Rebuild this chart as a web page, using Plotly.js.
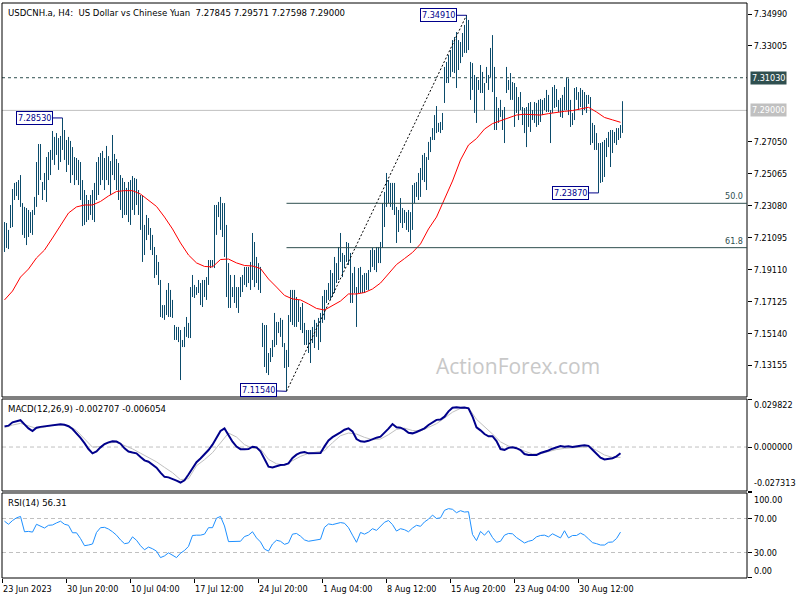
<!DOCTYPE html>
<html>
<head>
<meta charset="utf-8">
<script src="https://cdn.plot.ly/plotly-3.0.1.min.js"></script>
<style>html,body{margin:0;padding:0;background:#fff;}#chart{width:800px;height:600px;}</style>
</head>
<body>
<div id="chart"></div>
<script>
// ---- Data ----
const highs = [
7.2206,7.2200,7.2157,7.2312,7.2411,7.2449,7.2455,7.2467,7.2498,7.2324,
7.2300,7.2293,7.2281,7.2268,7.2281,7.2362,7.2579,7.2691,7.2691,7.2455,
7.2511,7.2610,7.2641,7.2654,7.2772,7.2735,7.2759,7.2728,7.2741,7.2853,
7.2778,7.2716,7.2735,7.2710,7.2672,7.2610,7.2604,7.2592,7.2579,7.2467,
7.2405,7.2374,7.2343,7.2374,7.2405,7.2449,7.2579,7.2610,7.2635,7.2648,
7.2604,7.2679,7.2616,7.2585,7.2747,7.2629,7.2598,7.2573,7.2498,7.2480,
7.2455,7.2418,7.2455,7.2467,7.2492,7.2480,7.2474,7.2405,7.2374,7.2374,
7.2188,7.2250,7.2231,7.2169,7.2126,7.2051,7.2001,7.1958,7.1846,7.1690,
7.1690,7.1784,7.1827,7.1784,7.1722,7.1566,7.1554,7.1554,7.1535,7.1473,
7.1554,7.1616,7.1579,7.1802,7.1877,7.1815,7.1802,7.1846,7.1827,7.1846,
7.1846,7.1864,7.1970,7.1970,7.1970,7.2312,7.2312,7.2331,7.2362,7.2324,
7.2324,7.2188,7.1951,7.1877,7.1802,7.1877,7.1802,7.1802,7.1864,7.1877,
7.1927,7.1927,7.1927,7.1958,7.2138,7.2082,7.1989,7.1951,7.1927,7.1579,
7.1566,7.1566,7.1392,7.1423,7.1473,7.1641,7.1585,7.1585,7.1610,7.1598,
7.1454,7.1411,7.1628,7.1784,7.1784,7.1784,7.1740,7.1722,7.1678,7.1703,
7.1579,7.1535,7.1535,7.1535,7.1554,7.1598,7.1579,7.1610,7.1641,7.1746,
7.1784,7.1784,7.1827,7.1908,7.1889,7.1989,7.1951,7.2051,7.2138,7.2014,
7.2001,7.2082,7.2076,7.2014,7.1889,7.1927,7.1802,7.1920,7.1927,7.1877,
7.1889,7.1889,7.1908,7.2032,7.2045,7.2032,7.2051,7.2051,7.2082,7.2324,
7.2393,7.2511,7.2467,7.2449,7.2449,7.2449,7.2300,7.2281,7.2355,7.2293,
7.2281,7.2268,7.2281,7.2268,7.2436,7.2449,7.2455,7.2511,7.2542,7.2623,
7.2635,7.2610,7.2704,7.2735,7.2790,7.2871,7.2927,7.2822,7.2828,7.2884,
7.3170,7.3201,7.3244,7.3275,7.3337,7.3356,7.3387,7.3337,7.3325,7.3381,
7.3431,7.3491,7.3462,7.3201,7.3194,7.3120,7.3107,7.3089,7.3182,7.3139,
7.3070,7.3170,7.3120,7.3288,7.3368,7.3170,7.2983,7.2915,7.2965,7.2902,
7.2921,7.3170,7.3089,7.3132,7.3076,7.3070,7.3045,7.2983,7.3014,7.2921,
7.2915,7.2921,7.2946,7.2952,7.2902,7.2952,7.2946,7.2965,7.2971,7.2965,
7.2977,7.3027,7.2996,7.2902,7.3045,7.3058,7.3033,7.2965,7.2977,7.2996,
7.3045,7.3103,7.3098,7.2965,7.2884,7.3039,7.3045,7.3014,7.3039,7.3027,
7.3014,7.2996,7.2996,7.2983,7.2822,7.2809,7.2759,7.2697,7.2697,7.2704,
7.2716,7.2728,7.2766,7.2778,7.2778,7.2766,7.2790,7.2790,7.2809,7.29571
];
const lows = [
7.2020,7.2045,7.2038,7.2169,7.2175,7.2343,7.2368,7.2343,7.2300,7.2126,
7.2107,7.2063,7.2113,7.2138,7.2126,7.2250,7.2300,7.2374,7.2467,7.2343,
7.2405,7.2331,7.2467,7.2498,7.2592,7.2561,7.2623,7.2530,7.2579,7.2654,
7.2592,7.2517,7.2561,7.2449,7.2498,7.2436,7.2467,7.2436,7.2343,7.2181,
7.2188,7.2206,7.2219,7.2250,7.2219,7.2206,7.2343,7.2374,7.2436,7.2467,
7.2405,7.2467,7.2436,7.2374,7.2498,7.2467,7.2405,7.2343,7.2281,7.2231,
7.2250,7.2250,7.2206,7.2188,7.2281,7.2250,7.2312,7.2250,7.2157,7.1958,
7.2001,7.2094,7.2126,7.2032,7.2001,7.1858,7.1877,7.1815,7.1616,7.1610,
7.1598,7.1628,7.1616,7.1616,7.1610,7.1473,7.1473,7.1460,7.1224,7.1429,
7.1429,7.1492,7.1485,7.1485,7.1740,7.1734,7.1753,7.1765,7.1690,7.1678,
7.1740,7.1722,7.1815,7.1920,7.1927,7.1920,7.2126,7.2237,7.2157,7.2113,
7.1989,7.1740,7.1672,7.1672,7.1740,7.1703,7.1672,7.1641,7.1740,7.1771,
7.1815,7.1802,7.1827,7.1784,7.1846,7.1802,7.1827,7.1784,7.1765,7.1429,
7.1305,7.1268,7.1255,7.1336,7.1367,7.1429,7.1442,7.1516,7.1492,7.1429,
7.1299,7.1154,7.1305,7.1585,7.1566,7.1554,7.1554,7.1585,7.1535,7.1516,
7.1442,7.1442,7.1392,7.1330,7.1454,7.1423,7.1492,7.1411,7.1460,7.1579,
7.1598,7.1703,7.1722,7.1722,7.1740,7.1765,7.1827,7.1846,7.1958,7.1864,
7.1920,7.1958,7.1939,7.1703,7.1703,7.1765,7.1554,7.1765,7.1765,7.1765,
7.1765,7.1784,7.1784,7.1895,7.1927,7.1908,7.1895,7.1951,7.1951,7.2045,
7.2175,7.2300,7.2324,7.2300,7.2281,7.2250,7.2076,7.2144,7.2200,7.2169,
7.2200,7.2157,7.2144,7.2076,7.2157,7.2324,7.2362,7.2343,7.2362,7.2467,
7.2455,7.2405,7.2592,7.2641,7.2716,7.2716,7.2759,7.2766,7.2759,7.2778,
7.2946,7.3070,7.3070,7.3107,7.3139,7.3132,7.3039,7.3151,7.3194,7.3232,
7.3257,7.3257,7.3275,7.2965,7.3027,7.2884,7.2822,7.3027,7.3008,7.3008,
7.2902,7.3070,7.3027,7.3107,7.3014,7.2778,7.2778,7.2822,7.2859,7.2778,
7.2697,7.3008,7.3027,7.2965,7.2965,7.2797,7.2884,7.2840,7.2902,7.2809,
7.2759,7.2672,7.2797,7.2766,7.2840,7.2822,7.2797,7.2809,7.2828,7.2871,
7.2902,7.2890,7.2890,7.2697,7.2884,7.2915,7.2921,7.2890,7.2859,7.2853,
7.2902,7.2902,7.2871,7.2797,7.2809,7.2840,7.2965,7.2902,7.2921,7.2871,
7.2902,7.2884,7.2940,7.2685,7.2697,7.2654,7.2654,7.2387,7.2449,7.2455,
7.2486,7.2610,7.2672,7.2548,7.2635,7.2697,7.2685,7.2716,7.2728,7.27598
];
// moving average (red), one value every 4 bars
const maStep = 4;
const maValues = [
7.1722,7.1777,7.1864,7.1914,7.1983,7.2032,7.2107,7.2188,7.2262,7.2300,
7.2312,7.2312,7.2334,7.2368,7.2396,7.2401,7.2401,7.2380,7.2343,7.2303,
7.2237,7.2163,7.2076,7.2001,7.1952,7.1930,7.1927,7.1973,7.1976,7.1952,
7.1936,7.1933,7.1917,7.1852,7.1802,7.1750,7.1728,7.1722,7.1697,7.1669,
7.1659,7.1687,7.1715,7.1759,7.1759,7.1768,7.1790,7.1827,7.1883,7.1942,
7.1979,7.2017,7.2070,7.2163,7.2237,7.2349,7.2461,7.2592,7.2685,7.2725,
7.2784,7.2818,7.2836,7.2856,7.2871,7.2876,7.2874,7.2871,7.2880,7.2888,
7.2894,7.2899,7.2909,7.2919,7.2890,7.2856,7.2841,7.2826
];
// MACD main line, one value every 2 bars
const macdStep = 2;
const macdValues = [
0.01283,0.01325,0.01532,0.01615,0.01666,0.01408,0.01159,0.00994,0.01201,0.01252,
0.01283,0.01325,0.01356,0.01397,0.01408,0.01377,0.01294,0.01118,0.00869,0.00569,
0.00238,-0.00124,-0.00393,-0.00269,-0.00021,0.00186,0.00290,0.00352,0.00342,0.00207,
-0.00083,-0.00279,-0.00342,-0.00393,-0.00621,-0.00828,-0.00911,-0.01076,-0.01283,-0.01594,
-0.01853,-0.01884,-0.01967,-0.02091,-0.02205,-0.02070,-0.01708,-0.01325,-0.00942,-0.00714,
-0.00476,-0.00186,0.00145,0.00559,0.00994,0.01159,0.00745,0.00331,0.00031,-0.00135,
-0.00145,-0.00124,0.00021,-0.00021,-0.00269,-0.00704,-0.01221,-0.01273,-0.01190,-0.01118,
-0.01097,-0.01014,-0.00683,-0.00476,-0.00352,-0.00311,-0.00393,-0.00393,-0.00393,-0.00373,
0.00041,0.00414,0.00611,0.00735,0.00911,0.01076,0.01159,0.00973,0.00497,0.00352,
0.00331,0.00383,0.00507,0.00580,0.00642,0.00869,0.01139,0.01428,0.01232,
0.01201,0.01076,0.00890,0.00849,0.00932,0.01025,0.01159,0.01366,0.01553,0.01687,
0.01708,0.01884,0.02215,0.02443,0.02463,0.02432,0.02453,0.02401,0.01894,0.01221,
0.01035,0.00807,0.00662,0.00673,0.00373,-0.00124,-0.00176,-0.00052,-0.00010,-0.00072,
-0.00186,-0.00435,-0.00497,-0.00497,-0.00497,-0.00373,-0.00311,-0.00217,-0.00104,-0.00031,
0.00062,0.00021,0.00041,0.00000,0.00052,0.00083,0.00104,0.00072,-0.00166,-0.00404,
-0.00662,-0.00776,-0.00735,-0.00693,-0.00580,-0.00383
];
// MACD signal line, one value every 4 bars
const signalStep = 4;
const signalValues = [
0.01201,0.01366,0.01470,0.01314,0.01159,0.01232,0.01356,0.01366,0.01335,0.01025,
0.00538,-0.00010,0.00031,0.00248,0.00300,0.00083,-0.00114,-0.00383,-0.00652,-0.00921,
-0.01263,-0.01594,-0.02029,-0.01967,-0.01159,-0.00787,-0.00352,0.00269,0.00869,0.00621,
0.00145,-0.00072,-0.00124,-0.00766,-0.01045,-0.01118,-0.00838,-0.00580,-0.00393,-0.00321,
-0.00228,0.00269,0.00704,0.00869,0.00807,0.00600,0.00455,0.00497,0.00766,0.01097,
0.01170,0.01025,0.00994,0.01221,0.01449,0.01801,0.02163,0.02401,0.02443,0.01718,
0.01283,0.00807,0.00321,0.00062,-0.00072,-0.00269,-0.00435,-0.00414,-0.00290,-0.00155,
-0.00083,-0.00041,0.00000,0.00021,-0.00207,-0.00497,-0.00642,-0.00642
];
// RSI(14), one value every 2 bars
const rsiStep = 2;
const rsiValues = [
66.8,63.2,67.6,70.8,72.4,54.4,54.8,54.0,63.2,61.2,
58.8,62.0,62.4,64.8,66.8,63.2,62.0,53.2,53.2,46.4,
38.0,38.8,40.0,53.6,59.2,59.6,57.6,54.4,50.4,44.8,
40.4,41.2,48.4,44.4,38.0,33.2,36.4,34.4,31.6,24.0,
26.0,29.6,26.8,24.0,29.2,32.4,37.2,50.0,50.4,50.4,
51.6,59.2,59.2,70.4,72.4,61.2,42.8,42.8,42.8,43.2,
48.8,50.4,54.4,47.2,42.4,34.0,31.6,40.0,44.4,43.2,
39.6,41.2,51.6,52.4,49.2,44.8,43.2,44.0,44.0,45.6,
59.6,63.6,62.8,64.0,65.2,64.4,59.2,50.4,42.0,53.6,
51.6,54.0,58.0,56.0,61.2,65.6,67.6,62.8,55.2,
58.0,56.8,54.4,58.8,62.0,60.8,66.0,69.2,74.0,70.0,
70.8,79.6,81.6,80.8,76.8,79.2,77.6,78.0,51.2,44.0,
54.8,50.4,55.6,47.6,42.0,43.2,50.4,52.4,52.0,47.6,
44.8,41.2,43.2,44.4,48.4,50.0,50.4,48.4,52.0,49.6,
47.2,55.6,47.2,50.0,50.0,52.8,50.4,46.0,41.6,40.4,
38.8,38.8,42.0,42.4,46.4,54.0
];
// time axis labels (bar index of each label)
const dateTickIdx = [-1, 31, 63, 95, 127, 159, 191, 223, 255, 287];
const dateTickText = ['23 Jun 2023','30 Jun 20:00','10 Jul 04:00','17 Jul 12:00','24 Jul 20:00',
  '1 Aug 04:00','8 Aug 12:00','15 Aug 20:00','23 Aug 04:00','30 Aug 12:00'];
// price axis ticks
const priceTicks = [7.13155,7.15140,7.17125,7.19110,7.21095,7.23080,7.25065,7.27050,7.33005,7.34990];
const resistanceLevel = 7.31030;
const lastPrice = 7.29000;
const quote = {open: 7.27845, high: 7.29571, low: 7.27598, close: 7.29000};
const macdLast = -0.002707, signalLast = -0.006054, rsiLast = 56.31;
const macdMax = 0.029822, macdMin = -0.027313;
const fibLevels = [0.5, 0.618];
const swingLowLabel = 7.23870;

// ---- Styling ----
const FONT = 'DejaVu Sans Condensed, Liberation Sans, sans-serif';
const BAR = '#0b4b6b';
const SLATE = '#2f4f4f';
const NAVY = '#00008b';
const xRange = [-1.25, 371.25];

// ---- Traces ----
const bx = [], by = [];
for (let i = 0; i < highs.length; i++) { bx.push(i, i, null); by.push(lows[i], highs[i], null); }

let lowIdx = 0, highIdx = 0;
lows.forEach((v, i) => { if (v < lows[lowIdx]) lowIdx = i; });
highs.forEach((v, i) => { if (v > highs[highIdx]) highIdx = i; });
const swingLowIdx = lows.indexOf(Math.min(...lows.slice(280)));
const firstPeakIdx = highs.indexOf(Math.max(...highs.slice(0, 60)));

const traces = [
  {type:'scatter', mode:'lines', x: bx, y: by, line:{color: BAR, width: 1}, hoverinfo:'skip', xaxis:'x', yaxis:'y'},
  {type:'scatter', mode:'lines', x: maValues.map((_, k) => k*maStep), y: maValues, line:{color:'#ff0000', width:1}, xaxis:'x', yaxis:'y'},
  {type:'scatter', mode:'lines', x: signalValues.map((_, k) => k*signalStep), y: signalValues, line:{color:'#c0c0c0', width:1}, xaxis:'x', yaxis:'y2'},
  {type:'scatter', mode:'lines', x: macdValues.map((_, k) => k*macdStep), y: macdValues, line:{color: NAVY, width:2}, xaxis:'x', yaxis:'y2'},
  {type:'scatter', mode:'lines', x: rsiValues.map((_, k) => k*rsiStep), y: rsiValues, line:{color:'#1e90ff', width:1}, xaxis:'x', yaxis:'y3'}
];

const lowP = lows[lowIdx], highP = highs[highIdx];
const shapes = [
  {type:'line', xref:'paper', yref:'y', x0:0, x1:1, y0:lastPrice, y1:lastPrice, line:{color:'#c0c0c0', width:1}, layer:'below'},
  {type:'line', xref:'paper', yref:'y', x0:0, x1:1, y0:resistanceLevel, y1:resistanceLevel, line:{color:SLATE, width:1, dash:'3px,3px'}, layer:'below'},
  {type:'line', xref:'x', yref:'y', x0:lowIdx, y0:lowP, x1:highIdx, y1:highP, line:{color:'#000', width:1, dash:'2px,2px'}},
  {type:'line', xref:'paper', yref:'y2', x0:0, x1:1, y0:0, y1:0, line:{color:'#c0c0c0', width:1, dash:'4px,3px'}, layer:'below'},
  {type:'line', xref:'paper', yref:'y3', x0:0, x1:1, y0:70, y1:70, line:{color:'#c0c0c0', width:1, dash:'4px,3px'}, layer:'below'},
  {type:'line', xref:'paper', yref:'y3', x0:0, x1:1, y0:30, y1:30, line:{color:'#c0c0c0', width:1, dash:'4px,3px'}, layer:'below'},
  {type:'rect', xref:'paper', yref:'y domain', x0:0, x1:1, y0:0, y1:1, line:{color:'#000', width:1}},
  {type:'rect', xref:'paper', yref:'y2 domain', x0:0, x1:1, y0:0, y1:1, line:{color:'#000', width:1}},
  {type:'rect', xref:'paper', yref:'y3 domain', x0:0, x1:1, y0:0, y1:1, line:{color:'#000', width:1}}
];
const annotations = [];
fibLevels.forEach(f => {
  const lvl = highP - f*(highP - lowP);
  shapes.push({type:'line', xref:'x', yref:'y', x0:lowIdx, x1:xRange[1], y0:lvl, y1:lvl, line:{color:SLATE, width:1}});
  annotations.push({xref:'paper', yref:'y', x:1, y:lvl, xanchor:'right', yanchor:'bottom', xshift:-2, yshift:0,
    text:(f*100).toFixed(1), showarrow:false, font:{family:FONT, size:9, color:SLATE}});
});
function priceTag(idx, price, txt, ay) {
  annotations.push({xref:'x', yref:'y', x:idx, y:price, text:txt, showarrow:true, arrowhead:0, arrowwidth:1,
    arrowcolor:NAVY, ax:-28, ay:ay, bordercolor:NAVY, borderwidth:1, borderpad:1, bgcolor:'#fff',
    font:{family:FONT, size:9, color:NAVY}});
}
priceTag(firstPeakIdx, highs[firstPeakIdx], highs[firstPeakIdx].toFixed(5), 0);
priceTag(highIdx, highP, highP.toFixed(5), 0);
priceTag(swingLowIdx, swingLowLabel, swingLowLabel.toFixed(5), 0);
priceTag(lowIdx, lowP, lowP.toFixed(5), -1);

annotations.push(
  {xref:'paper', yref:'y', x:1, y:resistanceLevel, xanchor:'left', xshift:3, text:resistanceLevel.toFixed(5), showarrow:false,
   bgcolor:SLATE, borderpad:1, font:{family:FONT, size:9, color:'#fff'}},
  {xref:'paper', yref:'y', x:1, y:lastPrice, xanchor:'left', xshift:3, text:lastPrice.toFixed(5), showarrow:false,
   bgcolor:'#c0c0c0', borderpad:1, font:{family:FONT, size:9, color:'#fff'}},
  {xref:'paper', yref:'paper', x:0, y:1, xanchor:'left', yanchor:'top', xshift:4, yshift:-2, showarrow:false,
   text:'USDCNH.a, H4:\u00a0\u00a0US Dollar vs Chinese Yuan\u00a0\u00a0' + [quote.open, quote.high, quote.low, quote.close].map(v => v.toFixed(5)).join(' '),
   font:{family:FONT, size:9.5, color:'#000'}},
  {xref:'paper', yref:'y2 domain', x:0, y:1, xanchor:'left', yanchor:'top', xshift:4, yshift:-2, showarrow:false,
   text:'MACD(12,26,9) ' + macdLast.toFixed(6) + ' ' + signalLast.toFixed(6), font:{family:FONT, size:9.5, color:'#000'}},
  {xref:'paper', yref:'y3 domain', x:0, y:1, xanchor:'left', yanchor:'top', xshift:4, yshift:-2, showarrow:false,
   text:'RSI(14) ' + rsiLast.toFixed(2), font:{family:FONT, size:9.5, color:'#000'}},
  {xref:'paper', yref:'y2', x:1, y:macdMax, xanchor:'left', yanchor:'top', xshift:5, yshift:1, showarrow:false,
   text:macdMax.toFixed(6), font:{family:FONT, size:9, color:'#000'}},
  {xref:'paper', yref:'y2', x:1, y:macdMin, xanchor:'left', yanchor:'bottom', xshift:5, yshift:1, showarrow:false,
   text:macdMin.toFixed(6), font:{family:FONT, size:9, color:'#000'}},
  {xref:'paper', yref:'y3', x:1, y:100, xanchor:'left', yanchor:'top', xshift:5, yshift:0, showarrow:false,
   text:'100.00', font:{family:FONT, size:9, color:'#000'}},
  {xref:'paper', yref:'y3', x:1, y:0, xanchor:'left', yanchor:'bottom', xshift:5, yshift:0, showarrow:false,
   text:'0.00', font:{family:FONT, size:9, color:'#000'}},
  {xref:'x', yref:'y', x:256.75, y:7.1311, showarrow:false, text:'ActionForex.com',
   font:{family:'Open Sans, sans-serif', size:21, color:'#c8c8c8'}}
);

const yCommon = {side:'right', ticks:'outside', ticklen:4, tickcolor:'#000', showgrid:false, zeroline:false,
  showline:false, anchor:'x', fixedrange:true, tickfont:{family:FONT, size:9, color:'#000'}};
const layout = {
  width:800, height:600,
  margin:{l:2, r:53, t:3, b:22},
  paper_bgcolor:'#fff', plot_bgcolor:'#fff',
  showlegend:false,
  font:{family:FONT, size:9, color:'#000'},
  xaxis:{range:xRange, anchor:'y3', tickvals:dateTickIdx, ticktext:dateTickText, ticks:'outside', ticklen:4,
    tickcolor:'#000', showgrid:false, zeroline:false, showline:false, ticklabelposition:'outside right',
    ticklabelstandoff:2, tickfont:{family:FONT, size:9, color:'#000'}},
  yaxis:Object.assign({}, yCommon, {domain:[0.31478, 1], range:[7.11186, 7.35674], tickvals:priceTicks, tickformat:'.5f'}),
  yaxis2:Object.assign({}, yCommon, {domain:[0.1513, 0.3113], range:[macdMin, macdMax], tickvals:[macdMin, 0, macdMax], ticktext:['', '0.000000', '']}),
  yaxis3:Object.assign({}, yCommon, {domain:[0, 0.14783], range:[0, 100], tickvals:[0, 30, 70, 100], ticktext:['', '30.00', '70.00', '']}),
  shapes:shapes,
  annotations:annotations
};
Plotly.newPlot('chart', traces, layout, {staticPlot:true, displayModeBar:false});
</script>
</body>
</html>
